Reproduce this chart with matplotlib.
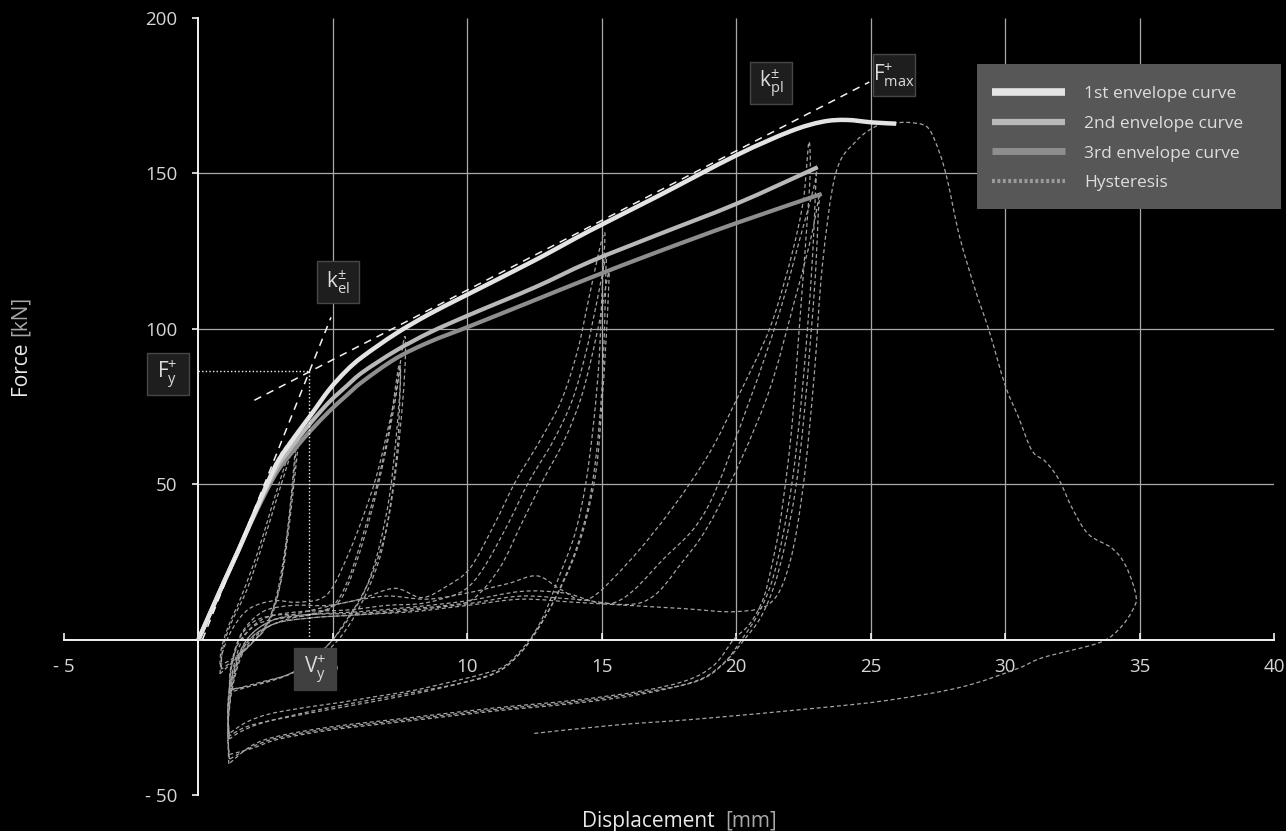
import matplotlib
matplotlib.use("Agg")
import matplotlib.pyplot as plt
from matplotlib.lines import Line2D
from matplotlib.patches import Rectangle, PathPatch
from matplotlib.path import Path

plt.rcParams["font.family"] = ["Open Sans", "DejaVu Sans"]
plt.rcParams["mathtext.fontset"] = "custom"
plt.rcParams["mathtext.rm"] = "Open Sans"
plt.rcParams["mathtext.it"] = "Open Sans"

# ---------------- data ----------------
x_ticks = [-5, 0, 5, 10, 15, 20, 25, 30, 35, 40]
x_tick_labels = ["- 5", "", "5", "10", "15", "20", "25", "30", "35", "40"]
y_ticks = [-50, 0, 50, 100, 150, 200]
y_tick_labels = ["- 50", "", "50", "100", "150", "200"]

env1_x = [0, 0.5, 1.0, 1.5, 2.0, 2.6, 3.0, 3.6, 4.2, 4.87, 5.5, 6.1, 7.35, 8.6, 10.0, 12.5, 14.54, 17.0, 20.0, 22.0, 23.2, 24.1, 25.07, 25.95]
env1_f = [0, 9.8, 19.5, 29, 39, 51, 58, 65.5, 72.5, 80.5, 86.5, 91, 98.5, 104.8, 111, 122, 131.5, 142.3, 155.8, 163.5, 166.6, 167.2, 166.4, 166]

env2_x = [0, 0.5, 1.0, 1.5, 2.0, 2.6, 3.0, 3.6, 4.2, 4.87, 5.5, 6.1, 7.35, 8.6, 10.08, 12.5, 14.54, 17.0, 20.0, 23.03]
env2_f = [0, 9.8, 19.5, 29, 39, 50, 56.5, 63.5, 70, 76.5, 81.5, 86, 93, 98.8, 104.5, 113.3, 121.5, 130, 140.2, 152]

env3_x = [0, 0.5, 1.0, 1.5, 2.0, 2.6, 3.0, 3.6, 4.2, 4.87, 5.5, 6.1, 7.35, 8.6, 10.08, 12.3, 14.54, 17.0, 20.0, 23.18]
env3_f = [0, 9.8, 19.5, 29, 38.5, 49, 55, 61.5, 67.5, 73.5, 78.5, 83, 90.5, 95.8, 100.8, 108.5, 116.3, 124.5, 134, 143.4]

# hysteresis cycles (displacement [mm], force [kN])
cyc01_x = [0, 0.5, 1.0, 1.8, 2.5, 3.0, 3.5, 3.75, 3.7, 3.55, 3.35, 3.1, 2.7, 2.2, 1.6, 1.1, 0.8]
cyc01_f = [0, 10, 20, 34, 50, 59, 65, 67.5, 62, 50, 35, 20, 8, 1, -4, -7, -8]
cyc02_x = [0.8, 0.85, 1.1, 1.6, 2.2, 2.7, 3.1, 3.45, 3.65, 3.6, 3.45, 3.25, 3.0, 2.6, 2.0, 1.4, 0.85]
cyc02_f = [-8, -3, 4, 14, 28, 42, 53, 62, 66, 58, 45, 30, 16, 5, -1, -6, -9.5]
cyc03_x = [0.85, 0.9, 1.2, 1.8, 2.4, 2.9, 3.3, 3.6, 3.55, 3.4, 3.2, 2.9, 2.5, 1.9, 1.3, 0.8]
cyc03_f = [-9.5, -3, 5, 16, 31, 45, 56, 64, 56, 42, 28, 14, 4, -2, -7, -11]
cyc04_x = [0.8, 0.9, 1.3, 1.9, 2.8, 3.6, 4.5, 5.0, 5.6, 6.1, 6.6, 7.0, 7.35, 7.65, 7.7, 7.6, 7.35, 7.0, 6.5, 6.0, 5.4, 4.9, 4.2, 3.4, 2.4, 1.15]
cyc04_f = [-11, -4, 4, 10, 12.5, 12, 13, 17, 28, 39, 52, 66, 80, 97, 92, 77, 55, 36, 22, 13, 5, -1, -6, -11, -13.5, -16.4]
cyc05_x = [1.15, 1.2, 1.5, 2.1, 3.0, 4.0, 5.0, 5.6, 6.2, 6.7, 7.1, 7.45, 7.5, 7.35, 7.1, 6.7, 6.2, 5.6, 5.0, 4.3, 3.4, 2.3, 1.15]
cyc05_f = [-16.4, -9, 0, 6, 8, 8, 11, 20, 36, 52, 68, 88, 82, 65, 46, 29, 16, 7, 0, -6, -11, -14, -17]
cyc06_x = [1.15, 1.2, 1.5, 2.2, 3.2, 4.2, 5.2, 5.8, 6.4, 6.9, 7.3, 7.5, 7.5, 7.4, 7.15, 6.8, 6.3, 5.7, 5.1, 4.3, 3.3, 2.2, 1.15]
cyc06_f = [-17, -10, -1, 5, 7, 8, 12, 23, 40, 58, 76, 87, 80, 62, 44, 28, 16, 6, -1, -7, -11.5, -14.5, -16]
cyc07_x = [1.15, 1.25, 1.6, 2.4, 3.5, 4.8, 6.0, 7.3, 8.3, 9.2, 10.1, 11.0, 11.8, 12.7, 13.5, 14.1, 14.5, 14.9, 15.1,
           15.1, 15.0, 14.9, 14.7, 14.4, 14.0, 13.4, 12.8, 12.2, 11.4, 10.6, 9.3, 7.97, 6.6, 5.3, 4.0, 2.65, 1.8, 1.13]
cyc07_f = [-16, -8, 2, 9, 11, 11, 13, 16.5, 13.5, 17, 23, 37, 51, 64, 77, 93, 109, 125, 131,
           126, 110, 90, 70, 50, 34, 20, 7, -1.3, -8.4, -11, -13.8, -16.4, -18.3, -20.2, -21.8, -23.9, -26.5, -30.3]
cyc08_x = [1.13, 1.1, 1.3, 1.7, 2.5, 3.8, 5.5, 7.0, 8.2, 9.0, 9.9, 10.6, 11.5, 12.3, 13.2, 13.9, 14.4, 14.8, 15.15,
           15.15, 15.1, 15.0, 14.8, 14.5, 14.0, 13.3, 12.6, 12.0, 11.2, 10.0, 8.0, 5.5, 3.0, 1.8, 1.15]
cyc08_f = [-30.3, -20, -9, 1, 7, 9, 9.5, 11, 11.5, 13, 16, 23, 37, 51, 64, 77, 92, 108, 123,
           118, 100, 80, 60, 43, 28, 14, 3, -4, -10, -13.5, -17.5, -21.5, -25.5, -28, -31]
cyc09_x = [1.15, 1.1, 1.3, 1.8, 2.7, 4.0, 6.0, 8.0, 9.2, 10.2, 11.2, 12.0, 12.8, 13.6, 14.2, 14.6, 14.95, 15.25,
           15.25, 15.15, 15.0, 14.8, 14.4, 13.9, 13.2, 12.5, 11.9, 11.0, 9.5, 7.0, 4.5, 2.5, 1.6, 1.15]
cyc09_f = [-31, -21, -10, 0, 6, 8, 8.5, 10, 11, 13, 23, 37, 51, 64, 77, 90, 104, 118,
           112, 95, 75, 55, 38, 25, 12, 2, -5, -11, -14.5, -18.5, -22.5, -26.5, -29.5, -32]
cyc10_x = [1.15, 1.1, 1.3, 1.8, 2.7, 4.0, 5.5, 7.0, 8.5, 10.0, 11.5, 12.6, 13.5, 14.5, 16.0, 17.6, 19.0, 20.0, 21.0, 21.5, 22.1, 22.5, 22.7,
           22.75, 22.6, 22.5, 22.3, 22.1, 21.9, 21.6, 21.3, 21.0, 20.5, 19.9, 19.2, 18.2, 16.5, 14.0, 11.0, 8.0, 5.0, 3.0, 2.0, 1.13]
cyc10_f = [-32, -22, -11, 0, 6, 9, 12, 14, 13, 15, 18, 20.5, 16, 13, 25, 42, 60, 77, 95, 106.5, 125, 141.6, 160,
           150, 130, 118, 95, 71.5, 55, 36, 23, 13, 5, 0, -8, -13, -16.5, -19.5, -22, -25, -28, -31, -34, -40]
cyc11_x = [1.13, 1.1, 1.3, 1.8, 2.8, 4.2, 6.0, 8.0, 10.0, 12.0, 13.6, 15.5, 17.3, 18.9, 20.5, 21.6, 22.4, 22.9, 23.0,
           22.95, 22.85, 22.65, 22.4, 22.1, 21.7, 21.3, 20.8, 20.2, 19.5, 18.5, 16.5, 14.0, 11.0, 8.0, 5.0, 3.0, 2.0, 1.15]
cyc11_f = [-40, -28, -14, -2, 5, 8, 9, 10.5, 12.5, 15.5, 15, 12, 26, 42, 77, 105, 130, 146, 152,
           145, 125, 100, 75, 52, 32, 18, 8, 0, -8, -13.5, -17, -20, -22.5, -25.5, -28.5, -31.5, -34.5, -38.5]
cyc12_x = [1.15, 1.1, 1.3, 1.8, 2.8, 4.2, 6.0, 8.0, 10.0, 12.0, 14.0, 16.5, 18.0, 19.3, 21.1, 22.2, 22.8, 23.1,
           23.05, 22.95, 22.75, 22.5, 22.2, 21.8, 21.4, 20.9, 20.3, 19.6, 18.6, 16.5, 14.0, 11.0, 8.0, 5.0, 3.0, 2.0, 1.13]
cyc12_f = [-38.5, -27, -13, -1, 5, 7, 8, 9.5, 11.5, 14, 13, 12, 25, 42, 77, 110, 130, 143.4,
           137, 118, 95, 70, 48, 30, 17, 7, 0, -7, -13, -17.5, -20.5, -23, -26, -29, -32, -35, -37]
cyc13_x = [1.13, 1.1, 1.3, 1.8, 2.8, 4.2, 6.0, 8.0, 10.0, 12.0, 14.0, 16.0, 18.0, 20.0, 21.3, 22.0, 22.5, 22.9, 23.2, 23.7,
           24.46, 25.3, 25.9, 26.4, 27.06, 27.4, 27.8, 28.3, 28.9, 29.4, 30.0, 30.5, 31.0, 31.5, 32.0, 32.5, 33.1,
           33.99, 34.5, 34.87, 34.73, 34.25, 33.5, 31.4, 30.44, 28.36, 25.58, 22.8, 18.63, 15.5, 12.48]
cyc13_f = [-37, -26, -12, -1, 5, 7, 8, 9, 11, 13, 12, 11, 10, 9, 12, 25, 50, 85, 120, 150,
           160.4, 165.6, 166.2, 166.4, 165.2, 160.3, 149.8, 129.9, 112.3, 99.5, 81.9, 71.5, 60.8, 57.3, 51.5, 42.2, 33.9,
           29.3, 23.5, 14, 9.3, 3.5, -1.0, -5.8, -9.4, -15.3, -19.6, -22.2, -25.5, -27.5, -30.2]

hyst_x = [cyc01_x, cyc02_x, cyc03_x, cyc04_x, cyc05_x, cyc06_x, cyc07_x,
          cyc08_x, cyc09_x, cyc10_x, cyc11_x, cyc12_x, cyc13_x]
hyst_f = [cyc01_f, cyc02_f, cyc03_f, cyc04_f, cyc05_f, cyc06_f, cyc07_f,
          cyc08_f, cyc09_f, cyc10_f, cyc11_f, cyc12_f, cyc13_f]

# characteristic values
yield_disp = 4.13
yield_force = 86.3
k_el_x = [0.15, 4.93]
k_el_f = [0.0, 103.7]
k_pl_x = [2.08, 24.95]
k_pl_f = [77.0, 179.4]

legend_labels = ["1st envelope curve", "2nd envelope curve", "3rd envelope curve", "Hysteresis"]


def smooth_path(xs, ys):
    """Cubic Bezier path running through every measured point (Catmull-Rom tangents)."""
    pts = list(zip(xs, ys))
    verts = [pts[0]]
    codes = [Path.MOVETO]
    n = len(pts)
    for i in range(n - 1):
        p0 = pts[i - 1] if i > 0 else pts[i]
        p1 = pts[i]
        p2 = pts[i + 1]
        p3 = pts[i + 2] if i + 2 < n else pts[i + 1]
        c1 = (p1[0] + (p2[0] - p0[0]) / 6.0, p1[1] + (p2[1] - p0[1]) / 6.0)
        c2 = (p2[0] - (p3[0] - p1[0]) / 6.0, p2[1] - (p3[1] - p1[1]) / 6.0)
        verts += [c1, c2, p2]
        codes += [Path.CURVE4] * 3
    return Path(verts, codes)


def draw_curve(ax, xs, ys, **kw):
    ax.add_patch(PathPatch(smooth_path(xs, ys), fill=False, **kw))


# ---------------- figure ----------------
W, H = 1286, 831
fig = plt.figure(figsize=(W / 100, H / 100), dpi=100, facecolor="black")
ax = fig.add_axes([64 / W, 1 - 795 / H, (1274 - 64) / W, (795 - 18) / H])
ax.set_facecolor("black")
ax.set_xlim(-5, 40)
ax.set_ylim(-50, 200)

for s in ("top", "right"):
    ax.spines[s].set_visible(False)
ax.spines["left"].set_position(("data", 0))
ax.spines["bottom"].set_position(("data", 0))
for s in ("left", "bottom"):
    ax.spines[s].set_color("#f2f2f2")
    ax.spines[s].set_linewidth(1.4)
    ax.spines[s].set_zorder(3)

txt_col = "#d6d6d6"
ax.set_xticks(x_ticks)
ax.set_xticklabels(x_tick_labels)
ax.set_yticks(y_ticks)
ax.set_yticklabels(y_tick_labels)
ax.tick_params(axis="x", direction="in", length=5, width=1.2, color="#f2f2f2",
               labelcolor=txt_col, labelsize=13.5, pad=13)
ax.tick_params(axis="y", direction="out", length=4, width=1.2, color="#f2f2f2",
               labelcolor=txt_col, labelsize=13.5, pad=11)

# grid
grid_col = "#a9a9a9"
ax.vlines([5, 10, 15, 20, 25, 30, 35], 0, 200, color=grid_col, lw=0.9, zorder=1)
ax.hlines([50, 100, 150], 0, 40, color=grid_col, lw=0.9, zorder=1)

# hysteresis loops
for hx, hf in zip(hyst_x, hyst_f):
    draw_curve(ax, hx, hf, edgecolor="#a4a4a4", lw=0.9, ls=(0, (3.2, 2.2)), zorder=2)

# envelope curves
draw_curve(ax, env3_x, env3_f, edgecolor="#8e8e8e", lw=3.0, capstyle="butt", zorder=4)
draw_curve(ax, env2_x, env2_f, edgecolor="#b9b9b9", lw=3.0, capstyle="butt", zorder=4)
draw_curve(ax, env1_x, env1_f, edgecolor="#e4e4e4", lw=3.2, capstyle="butt", zorder=5)

# stiffness lines and yield point
ax.plot(k_el_x, k_el_f, color="#f2f2f2", lw=1.1, ls=(0, (5, 4)), zorder=6)
ax.plot(k_pl_x, k_pl_f, color="#f2f2f2", lw=1.1, ls=(0, (5, 4)), zorder=6)
ax.plot([0, yield_disp], [yield_force, yield_force], color="#f2f2f2", lw=1.0, ls=(0, (1, 1.6)), zorder=6)
ax.plot([yield_disp, yield_disp], [0, yield_force], color="#f2f2f2", lw=1.0, ls=(0, (1, 1.6)), zorder=6)

# label boxes
px_x = (1274 - 64) / 45.0
px_y = (795 - 18) / 250.0
box_w = 42 / px_x
box_h = 42 / px_y


def label_box(cx, cy, text, fc, ec):
    ax.add_patch(Rectangle((cx - box_w / 2, cy - box_h / 2), box_w, box_h, fc=fc, ec=ec,
                           lw=1.0, zorder=8, clip_on=False))
    ax.text(cx, cy, text, color="#dcdcdc", fontsize=15, ha="center", va="center", zorder=9)


label_box(21.31, 179.0, r"$\mathrm{k}_{\mathrm{pl}}^{\pm}$", "#1e1e1e", "#474747")
label_box(25.85, 181.6, r"$\mathrm{F}_{\mathrm{max}}^{+}$", "#1e1e1e", "#474747")
label_box(5.19, 115.0, r"$\mathrm{k}_{\mathrm{el}}^{\pm}$", "#1e1e1e", "#474747")
label_box(-1.15, 85.3, r"$\mathrm{F}_{\mathrm{y}}^{+}$", "#1e1e1e", "#474747")
label_box(4.34, -9.3, r"$\mathrm{V}_{\mathrm{y}}^{+}$", "#404040", "#404040")

# legend panel
ax.add_patch(Rectangle((977 / W, 1 - 209 / H), (1281 - 977) / W, (209 - 64) / H,
                       transform=fig.transFigure, fc="#575757", ec="none", zorder=10, clip_on=False))
handles = [
    Line2D([], [], color="#e4e4e4", lw=5.5, solid_capstyle="butt"),
    Line2D([], [], color="#b9b9b9", lw=4.5, solid_capstyle="butt"),
    Line2D([], [], color="#8e8e8e", lw=5.0, solid_capstyle="butt"),
    Line2D([], [], color="#9a9a9a", lw=3.0, ls=(0, (0.7, 0.6))),
]
leg = ax.legend(handles, legend_labels, loc="upper left", bbox_to_anchor=(992 / W, 1 - 86 / H),
                bbox_transform=fig.transFigure, frameon=False, fontsize=12.5,
                handlelength=4.2, handletextpad=1.1, labelspacing=0.78, borderpad=0, borderaxespad=0)
leg.set_zorder(11)
for t in leg.get_texts():
    t.set_color("#dedede")

# axis titles: bright quantity name followed by a dimmer unit
fig.text(582 / W, 1 - 827 / H, "Displacement", color="#e8e8e8", fontsize=15, ha="left", va="baseline")
fig.text(725 / W, 1 - 827 / H, "[mm]", color="#a8a8a8", fontsize=15, ha="left", va="baseline")
force_txt = fig.text(31 / W, 1 - 395 / H, "Force", color="#e8e8e8", fontsize=15, rotation=90,
                     ha="right", va="bottom")
fig.canvas.draw()
bb = force_txt.get_window_extent()
fig.text(31 / W, (bb.y1 + 5) / H, "[kN]", color="#a8a8a8", fontsize=15, rotation=90, ha="right",
         va="bottom")

fig.savefig("out.png", dpi=100, facecolor="black")
